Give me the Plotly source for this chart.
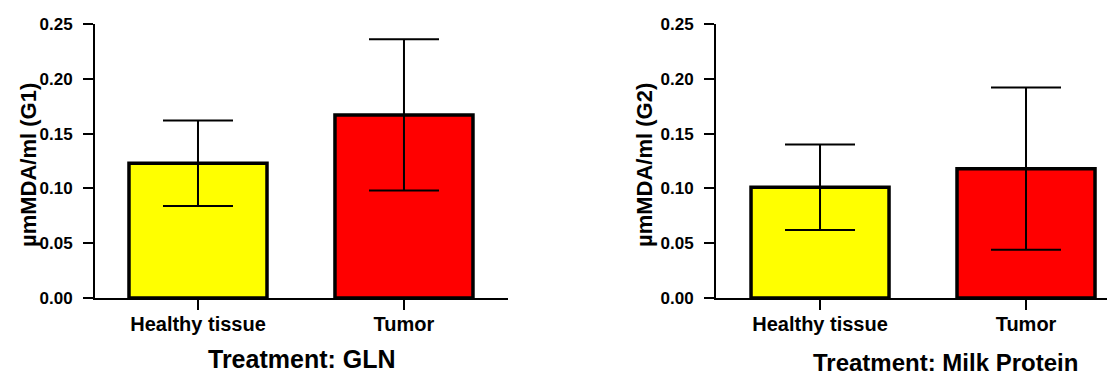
import plotly.graph_objects as go

categories = ["Healthy tissue", "Tumor"]
colors = ["#FFFF00", "#FF0000"]
g1_mean = [0.123, 0.167]
g1_err = [0.039, 0.069]
g2_mean = [0.101, 0.118]
g2_err = [0.039, 0.074]
y_ticks = [0.00, 0.05, 0.10, 0.15, 0.20, 0.25]
y_ticklabels = ["0.00", "0.05", "0.10", "0.15", "0.20", "0.25"]

# The page body has an 8px margin, so the figure is sized to fill the visible window
OFF = 8
W, H = 1115 - OFF, 376 - OFF
FONT = "Liberation Sans, Arial, sans-serif"

fig = go.Figure()
for mean, err, xa, ya in [(g1_mean, g1_err, "x", "y"), (g2_mean, g2_err, "x2", "y2")]:
    fig.add_trace(go.Bar(
        x=categories, y=mean, width=0.67,
        marker=dict(color=colors, line=dict(color="black", width=3.5)),
        error_y=dict(type="data", array=err, visible=True, color="black", thickness=2, width=35),
        xaxis=xa, yaxis=ya, showlegend=False,
    ))

def px(v):
    return (v - OFF) / W

def py(v):
    return 1 - (v - OFF) / H

axis_common = dict(showline=True, linecolor="black", linewidth=2, ticks="outside",
                   ticklen=10, tickwidth=2, tickcolor="black", showgrid=False, zeroline=False,
                   automargin=False)

xfont = dict(family=FONT, size=20, color="black", weight="bold")
yfont = dict(family=FONT, size=17, color="black", weight="bold")

fig.update_layout(
    template="none",
    width=W, height=H, margin=dict(l=0, r=0, t=0, b=0, pad=0),
    plot_bgcolor="white", paper_bgcolor="white",
    xaxis=dict(domain=[px(95), px(508)], range=[-0.5, 1.505], anchor="y", tickfont=xfont,
               ticklabelstandoff=-3, **axis_common),
    yaxis=dict(domain=[py(298), py(24)], range=[0, 0.25], anchor="x", tickfont=yfont,
               tickvals=y_ticks, ticktext=y_ticklabels, ticklabelstandoff=7, **axis_common),
    xaxis2=dict(domain=[px(716), 1.0], range=[-0.505, 1.432], anchor="y2", tickfont=xfont,
                ticklabelstandoff=-3, **axis_common),
    yaxis2=dict(domain=[py(298), py(24)], range=[0, 0.25], anchor="x2", tickfont=yfont,
                tickvals=y_ticks, ticktext=y_ticklabels, ticklabelstandoff=7, **axis_common),
)

yt_font = dict(family=FONT, size=22, color="black", weight="bold")
xt_font = dict(family=FONT, size=25, color="black", weight="bold")
xt_font2 = dict(family=FONT, size=24, color="black", weight="bold")
fig.add_annotation(x=px(29), y=py(165), xref="paper", yref="paper", text="µmMDA/ml (G1)",
                   textangle=-90, showarrow=False, font=yt_font, xanchor="center", yanchor="middle")
fig.add_annotation(x=px(645), y=py(165), xref="paper", yref="paper", text="µmMDA/ml (G2)",
                   textangle=-90, showarrow=False, font=yt_font, xanchor="center", yanchor="middle")
fig.add_annotation(x=px(302), y=py(359), xref="paper", yref="paper", text="Treatment: GLN",
                   showarrow=False, font=xt_font, xanchor="center", yanchor="middle")
fig.add_annotation(x=px(945), y=py(362), xref="paper", yref="paper", text="Treatment: Milk Protein",
                   showarrow=False, font=xt_font2, xanchor="center", yanchor="middle")

fig.write_html("out.html")
